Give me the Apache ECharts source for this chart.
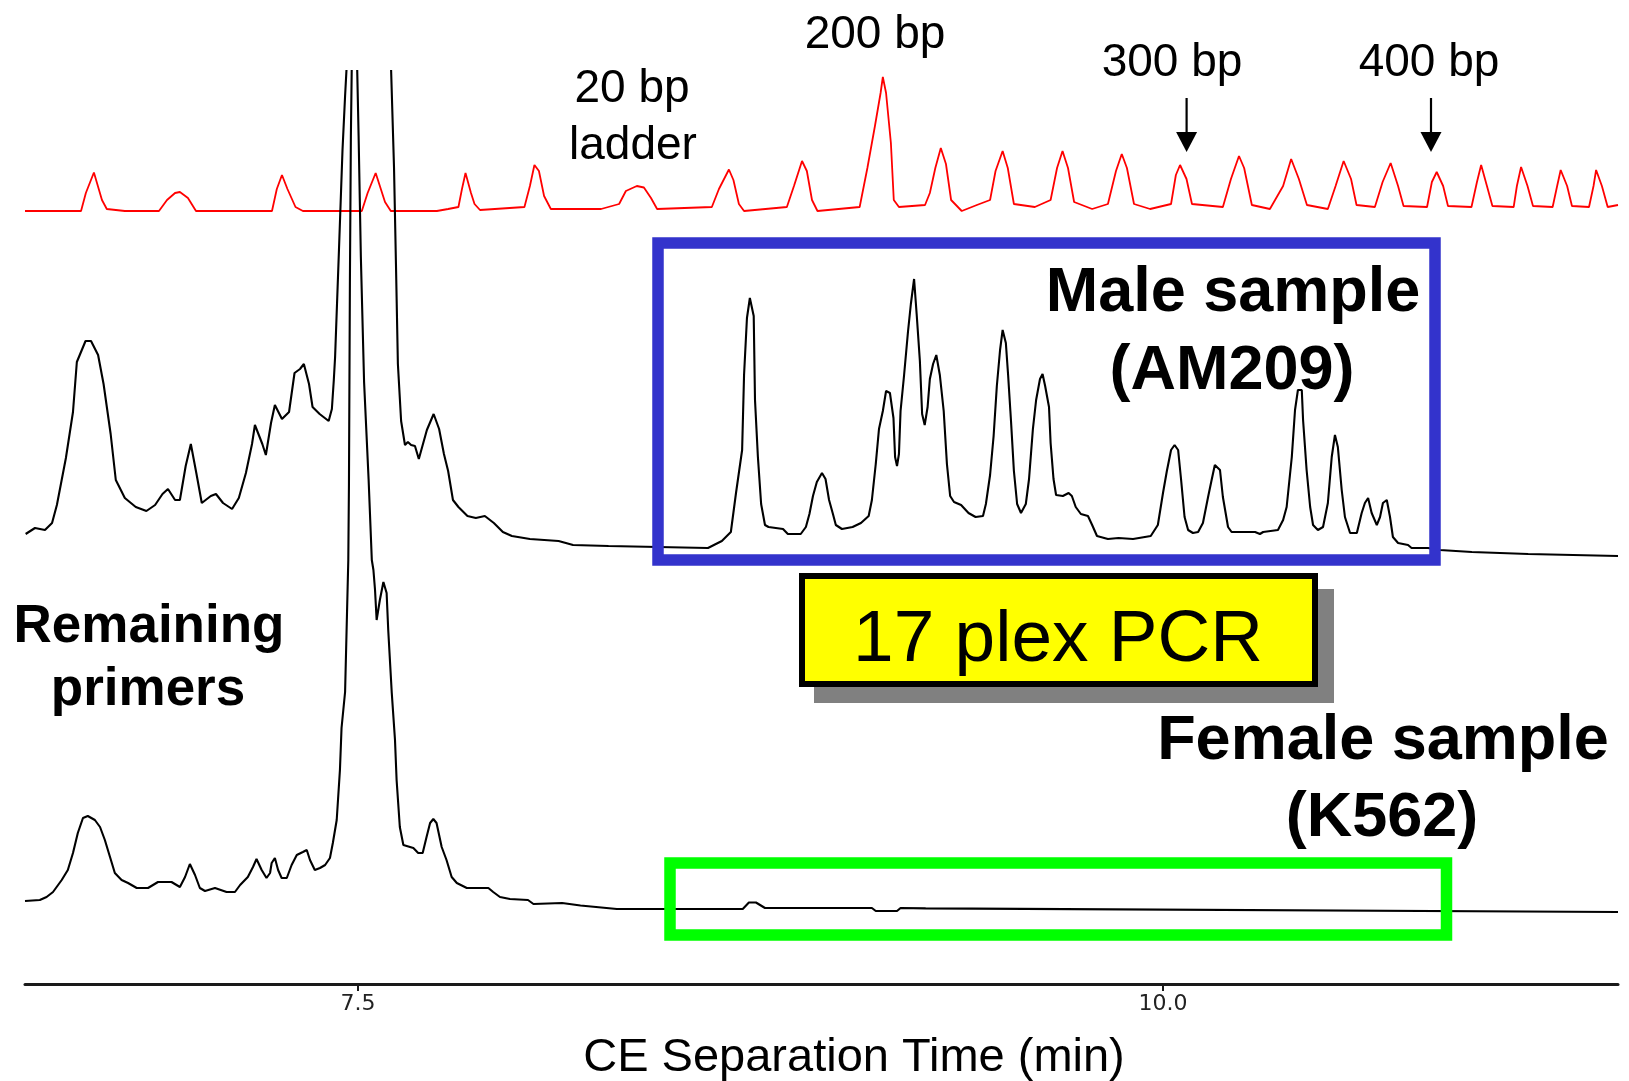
<!DOCTYPE html>
<html><head><meta charset="utf-8">
<script src="https://cdn.jsdelivr.net/npm/echarts@6/dist/echarts.min.js"></script>
<style>html,body{margin:0;padding:0;background:#fff}#c{width:1629px;height:1081px}</style>
</head><body><div id="c"></div>
<script>
// Tick labels on the time axis (min)
const timeTicks = [7.5, 10.0];

// 20 bp ladder (red trace): [time (min), signal]
const ladderTrace = [
[6.466,0],[6.640,0],[6.655,18],[6.680,38.5],[6.705,11],[6.720,2],[6.776,0],
[6.882,0],[6.907,11],[6.932,18],[6.947,19],[6.972,13],[6.997,0],
[7.233,0],[7.248,22],[7.264,36],[7.281,22],[7.306,4],[7.329,0],
[7.512,0],[7.530,18],[7.555,38],[7.568,25],[7.584,9],[7.602,0],
[7.745,0],[7.780,2],[7.812,4],[7.823,22],[7.834,38],[7.851,18],[7.862,7],[7.879,1],
[8.017,4],[8.034,25],[8.048,46],[8.062,40],[8.078,15],[8.099,2],
[8.255,2],[8.311,7],[8.332,20],[8.366,25],[8.388,23.5],[8.410,13],[8.429,2],
[8.599,4],[8.621,22],[8.652,41.5],[8.666,31],[8.683,7],[8.699,0],
[8.832,4],[8.854,25],[8.879,50],[8.894,40],[8.910,11],[8.927,0],
[9.058,4],[9.082,43],[9.106,86],[9.123,118],[9.130,134],[9.140,118],[9.155,68],[9.164,11],[9.180,4],
[9.261,6],[9.276,18],[9.293,43],[9.310,63],[9.326,47],[9.342,11],[9.375,0],
[9.422,6],[9.463,11],[9.480,40],[9.502,60],[9.518,43],[9.537,7],
[9.602,4],[9.651,11],[9.671,43],[9.688,60],[9.705,43],[9.724,9],
[9.780,2],[9.829,7],[9.854,40],[9.872,57],[9.888,43],[9.910,7],
[9.960,2],[10.025,7],[10.040,36],[10.053,46],[10.073,32],[10.090,7],
[10.186,4],[10.211,32],[10.236,55],[10.252,43],[10.276,6],
[10.332,2],[10.373,25],[10.398,52],[10.422,32],[10.447,6],
[10.512,2],[10.536,25],[10.561,50],[10.584,32],[10.601,6],
[10.658,4],[10.682,29],[10.707,48],[10.730,25],[10.747,5],
[10.820,4],[10.835,29],[10.850,39],[10.870,25],[10.885,5],
[10.958,4],[10.975,29],[10.988,46],[11.006,25],[11.023,5],
[11.089,4],[11.099,25],[11.112,44],[11.132,25],[11.149,5],
[11.210,4],[11.224,25],[11.235,41],[11.255,25],[11.270,5],
[11.323,4],[11.337,25],[11.345,41],[11.363,25],[11.381,4],
[11.413,6]
];

// Male sample (AM209), 17 plex PCR: [time (min), signal]
const maleTrace = [
[6.468,22],[6.497,28],[6.528,26],[6.550,33],[6.565,51],[6.593,98],[6.615,144],[6.627,194],[6.654,215],[6.671,215],
[6.693,201],[6.710,172],[6.732,122],[6.748,76],[6.776,58],[6.810,49],[6.843,45],[6.870,51],[6.893,62],[6.910,67],
[6.932,56],[6.947,56],[6.965,90],[6.981,112],[6.998,83],[7.015,53],[7.043,60],[7.059,62],[7.081,53],[7.109,47],
[7.130,58],[7.152,83],[7.171,112],[7.180,131],[7.203,112],[7.214,101],[7.230,133],[7.242,151],[7.264,137],[7.286,144],
[7.303,183],[7.320,187],[7.332,192],[7.348,172],[7.359,149],[7.381,142],[7.409,135],[7.419,147],[7.425,176],[7.429,199],
[7.441,306],[7.452,406],[7.460,460],[7.466,496],[7.534,756],[7.602,496],[7.612,388],[7.618,292],[7.624,192],[7.634,135],
[7.646,111],[7.655,114],[7.665,111],[7.677,110],[7.689,97],[7.714,126],[7.735,142],[7.752,127],[7.767,102],[7.780,85],
[7.795,56],[7.812,49],[7.840,40],[7.866,38],[7.894,40],[7.922,33],[7.950,24],[7.978,20],[8.034,17],[8.123,15],
[8.168,11],[8.278,10],[8.587,8],[8.630,15],[8.658,24],[8.674,63],[8.693,106],[8.699,181],[8.708,238],[8.717,258],
[8.729,240],[8.733,156],[8.742,99],[8.752,52],[8.764,31],[8.775,29],[8.820,27],[8.835,22],[8.875,22],[8.891,29],
[8.902,42],[8.913,60],[8.925,74],[8.941,83],[8.952,77],[8.963,56],[8.975,42],[8.984,31],[9.003,27],[9.036,29],
[9.062,33],[9.086,40],[9.096,56],[9.108,92],[9.118,127],[9.130,145],[9.140,165],[9.152,163],[9.163,138],[9.168,99],
[9.174,90],[9.180,102],[9.185,145],[9.196,181],[9.208,224],[9.217,252],[9.227,277],[9.235,242],[9.245,195],[9.252,142],
[9.260,131],[9.269,149],[9.276,177],[9.286,192],[9.296,201],[9.307,181],[9.319,145],[9.329,92],[9.339,60],[9.351,54],
[9.373,51],[9.396,43],[9.418,39],[9.441,40],[9.450,52],[9.463,81],[9.474,120],[9.484,170],[9.494,206],[9.502,226],
[9.512,213],[9.519,181],[9.528,135],[9.537,85],[9.547,52],[9.559,43],[9.574,52],[9.584,77],[9.596,127],[9.606,156],
[9.618,177],[9.626,182],[9.634,170],[9.646,149],[9.651,113],[9.660,77],[9.668,61],[9.689,60],[9.707,63],[9.717,60],
[9.729,49],[9.745,42],[9.767,40],[9.780,31],[9.795,20],[9.829,17],[9.862,18],[9.907,17],[9.962,20],[9.984,31],
[10.000,63],[10.012,85],[10.025,106],[10.036,111],[10.047,106],[10.056,77],[10.067,39],[10.078,26],[10.093,23],[10.109,24],
[10.124,33],[10.140,59],[10.151,76],[10.161,91],[10.177,86],[10.186,59],[10.202,29],[10.213,24],[10.286,24],[10.301,22],
[10.311,24],[10.357,26],[10.373,36],[10.384,49],[10.400,99],[10.410,146],[10.419,166],[10.431,166],[10.435,136],[10.446,86],
[10.457,49],[10.466,31],[10.481,26],[10.497,29],[10.512,53],[10.524,99],[10.534,121],[10.543,109],[10.555,66],[10.565,39],
[10.581,23],[10.602,23],[10.617,43],[10.627,53],[10.637,58],[10.648,43],[10.664,31],[10.674,39],[10.683,53],[10.695,56],
[10.705,39],[10.714,19],[10.730,13],[10.761,11],[10.772,8],[10.823,8],[10.860,6],[10.959,4],[10.963,2],[11.134,2],
[11.140,0],[11.413,0]
];

// Female sample (K562), 17 plex PCR: [time (min), signal]
const femaleTrace = [
[6.466,11],[6.512,12],[6.533,15],[6.553,20],[6.580,32],[6.599,42],[6.615,59],[6.630,79],[6.646,94],[6.661,96],
[6.683,92],[6.699,85],[6.714,72],[6.730,55],[6.745,39],[6.766,32],[6.786,29],[6.813,24],[6.848,24],[6.879,30],
[6.921,30],[6.947,25],[6.963,35],[6.978,48],[6.994,37],[7.009,24],[7.025,21],[7.056,24],[7.092,20],[7.118,20],
[7.134,27],[7.158,35],[7.174,45],[7.185,53],[7.201,42],[7.216,34],[7.227,39],[7.232,49],[7.242,54],[7.252,42],
[7.263,34],[7.279,34],[7.294,47],[7.310,57],[7.329,60],[7.341,62],[7.351,52],[7.366,42],[7.382,44],[7.398,47],
[7.413,54],[7.422,69],[7.434,92],[7.444,142],[7.449,184],[7.460,220],[7.470,352],[7.472,427],[7.475,632],[7.478,776],
[7.481,852],[7.489,1112],[7.497,852],[7.502,776],[7.509,655],[7.519,530],[7.533,433],[7.543,352],[7.548,342],[7.553,322],
[7.558,292],[7.568,312],[7.579,330],[7.589,319],[7.594,282],[7.605,219],[7.615,172],[7.620,132],[7.630,85],[7.641,67],
[7.672,64],[7.687,59],[7.701,59],[7.713,75],[7.724,89],[7.734,93],[7.744,89],[7.760,65],[7.775,52],[7.791,35],
[7.807,29],[7.838,24],[7.905,24],[7.920,20],[7.941,15],[7.972,13],[8.028,12],[8.045,8],[8.134,9],[8.191,6.5],
[8.304,3],[8.695,3],[8.714,9.5],[8.736,9.5],[8.764,4],[9.096,4],[9.108,1],[9.174,1],[9.185,4],[9.263,3.6],
[9.269,1.6],[11.413,0]
];

const chart = echarts.init(document.getElementById('c'), null, {renderer: 'canvas'});
const F = '"Liberation Sans", Arial, Helvetica, sans-serif';
function txt(text, x, y, size, bold) {
  return {type: 'text', z: 100, silent: true, style: {
    text: text, x: x, y: y, font: (bold ? 'bold ' : '') + size + 'px ' + F,
    fill: '#000', textAlign: 'center', textVerticalAlign: 'middle', align: 'center', verticalAlign: 'middle'}};
}
function arrow(x) {
  return [
    {type: 'line', z: 100, silent: true, shape: {x1: x, y1: 98, x2: x, y2: 136}, style: {stroke: '#000', lineWidth: 2.2}},
    {type: 'polygon', z: 100, silent: true, shape: {points: [[x - 10.5, 132], [x + 10.5, 132], [x, 152]]}, style: {fill: '#000'}}
  ];
}

chart.setOption({
  animation: false,
  backgroundColor: '#fff',
  grid: {left: 25, right: 11, top: 71, bottom: 97, containLabel: false, outerBoundsMode: 'none'},
  xAxis: {
    type: 'value', min: 6.466, max: 11.413,
    axisLine: {onZero: false, lineStyle: {color: '#1a1a1a', width: 3}},
    axisTick: {show: true, customValues: timeTicks, length: 7, lineStyle: {color: '#1a1a1a', width: 2}},
    axisLabel: {customValues: timeTicks, formatter: v => v.toFixed(1), fontFamily: 'DejaVu Sans', fontSize: 22, color: '#222', margin: 9},
    splitLine: {show: false},
    name: 'CE Separation Time (min)', nameLocation: 'middle', nameGap: 51,
    nameTextStyle: {fontFamily: 'Liberation Sans', fontSize: 47, color: '#000', padding: [0, 0, 0, 65]}
  },
  yAxis: [
    {type: 'value', show: false, min: -773, max: 140, splitLine: {show: false}},
    {type: 'value', show: false, min: -428, max: 485, splitLine: {show: false}},
    {type: 'value', show: false, min: -72, max: 841, splitLine: {show: false}}
  ],
  series: [
    {type: 'line', name: '20 bp ladder', yAxisIndex: 0, data: ladderTrace, symbol: 'none', showSymbol: false, clip: true, silent: true,
     lineStyle: {color: '#ff0000', width: 1.8}},
    {type: 'line', name: 'Male sample (AM209)', yAxisIndex: 1, data: maleTrace, symbol: 'none', showSymbol: false, clip: true, silent: true,
     lineStyle: {color: '#000', width: 2.1}},
    {type: 'line', name: 'Female sample (K562)', yAxisIndex: 2, data: femaleTrace, symbol: 'none', showSymbol: false, clip: true, silent: true,
     lineStyle: {color: '#000', width: 2.1}}
  ],
  graphic: [
    {type: 'rect', z: 90, silent: true, shape: {x: 814, y: 589, width: 520, height: 114}, style: {fill: '#808080'}},
    {type: 'rect', z: 91, silent: true, shape: {x: 802, y: 576, width: 513, height: 108}, style: {fill: '#ffff00', stroke: '#000', lineWidth: 6}},
    {type: 'rect', z: 92, silent: true, shape: {x: 658, y: 243, width: 777, height: 317}, style: {fill: 'none', stroke: '#3333cc', lineWidth: 11.5}},
    {type: 'rect', z: 92, silent: true, shape: {x: 670, y: 863, width: 776.5, height: 72}, style: {fill: 'none', stroke: '#00ff00', lineWidth: 11.5}},
    ...arrow(1186.6), ...arrow(1431),
    txt('200 bp', 875, 35, 46, false),
    txt('20 bp', 632, 89, 46, false),
    txt('ladder', 633, 146, 46, false),
    txt('300 bp', 1172, 63, 46, false),
    txt('400 bp', 1429, 63, 46, false),
    txt('Male sample', 1233, 294, 63, true),
    txt('(AM209)', 1232, 371.5, 63, true),
    txt('Female sample', 1383, 742, 63, true),
    txt('(K562)', 1382, 819, 63, true),
    txt('Remaining', 149, 627, 53, true),
    txt('primers', 148, 690.5, 53, true),
    txt('17 plex PCR', 1058, 641, 73, false)
  ]
});
</script></body></html>
